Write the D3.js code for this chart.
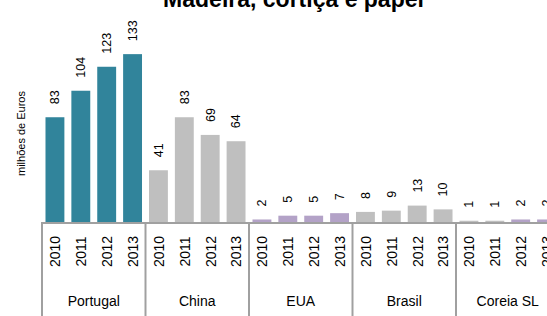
<!DOCTYPE html>
<html>
<head>
<meta charset="utf-8">
<script src="https://cdn.jsdelivr.net/npm/d3@7"></script>
<style>
  html, body { margin: 0; padding: 0; background: #fff; overflow: hidden; }
  text { font-family: Arial, "Liberation Sans", sans-serif; fill: #000; }
</style>
</head>
<body>
<div id="chart"></div>
<script>
const countries = ['Portugal', 'China', 'EUA', 'Brasil', 'Coreia SL'];
const years = ['2010', '2011', '2012', '2013'];

const portugal = [83, 104, 123, 133];
const china = [41, 83, 69, 64];
const eua = [2, 5, 5, 7];
const brasil = [8, 9, 13, 10];
const coreia = [1, 1, 2, 2];
const seriesValues = [portugal, china, eua, brasil, coreia];

// bar fill per country / year
const teal = '#31849b';
const grey = '#bfbfbf';
const lilac = '#b3a2c7';
const barColors = [
  [teal, teal, teal, teal],
  [grey, grey, grey, grey],
  [lilac, lilac, lilac, lilac],
  [grey, grey, grey, grey],
  [grey, grey, lilac, lilac]
];

const width = 547;
const height = 316;
const baseY = 222;

const svg = d3.select('#chart')
  .append('svg')
  .attr('width', width)
  .attr('height', height);

const x0 = d3.scaleBand()
  .domain(countries)
  .range([42, 559.5])
  .padding(0);

const x1 = d3.scaleBand()
  .domain(years)
  .range([0, x0.bandwidth()])
  .paddingInner(0.27)
  .paddingOuter(0.135);

const y = d3.scaleLinear()
  .domain([0, 140])
  .range([baseY, baseY - 176.7]);

const rows = countries.flatMap((c, i) => years.map((yr, j) => ({
  country: c, year: yr, value: seriesValues[i][j], color: barColors[i][j]
})));

// title (clipped at the top in the original)
svg.append('text')
  .attr('x', 293.5)
  .attr('y', 7)
  .attr('text-anchor', 'middle')
  .style('font-size', '23px')
  .style('font-weight', 'bold')
  .text('Madeira, cortiça e papel');

// y axis title
svg.append('text')
  .attr('transform', 'translate(25,133.5) rotate(-90)')
  .attr('text-anchor', 'middle')
  .style('font-size', '11px')
  .text('milhões de Euros');

// bars
svg.append('g')
  .selectAll('rect')
  .data(rows)
  .join('rect')
  .attr('x', (d) => x0(d.country) + x1(d.year))
  .attr('y', (d) => y(d.value))
  .attr('width', x1.bandwidth())
  .attr('height', (d) => y(0) - y(d.value))
  .attr('fill', (d) => d.color);

// value labels
svg.append('g')
  .selectAll('text')
  .data(rows)
  .join('text')
  .attr('transform', (d) => `translate(${x0(d.country) + x1(d.year) + x1.bandwidth() / 2},${y(d.value) - 13}) rotate(-90)`)
  .attr('dy', '0.35em')
  .style('font-size', '12.5px')
  .text((d) => d.value);

// axis line and group separators
const axisColor = '#a0a0a0';
svg.append('line')
  .attr('x1', x0.range()[0] - 1)
  .attr('x2', x0.range()[1])
  .attr('y1', baseY + 1)
  .attr('y2', baseY + 1)
  .attr('stroke', axisColor)
  .attr('stroke-width', 2);

svg.append('g')
  .selectAll('line')
  .data(countries.map((c) => x0(c)).concat([x0.range()[1]]))
  .join('line')
  .attr('x1', (d) => d)
  .attr('x2', (d) => d)
  .attr('y1', baseY)
  .attr('y2', height)
  .attr('stroke', axisColor)
  .attr('stroke-width', 2);

// year labels
svg.append('g')
  .selectAll('text')
  .data(rows)
  .join('text')
  .attr('transform', (d) => `translate(${x0(d.country) + x1(d.year) + x1.bandwidth() / 2},251.5) rotate(-90)`)
  .attr('text-anchor', 'middle')
  .attr('dy', '0.38em')
  .style('font-size', '14px')
  .text((d) => d.year);

// country labels
svg.append('g')
  .selectAll('text')
  .data(countries)
  .join('text')
  .attr('x', (d) => x0(d) + x0.bandwidth() / 2)
  .attr('y', 306)
  .attr('text-anchor', 'middle')
  .style('font-size', '14px')
  .text((d) => d);
</script>
</body>
</html>
